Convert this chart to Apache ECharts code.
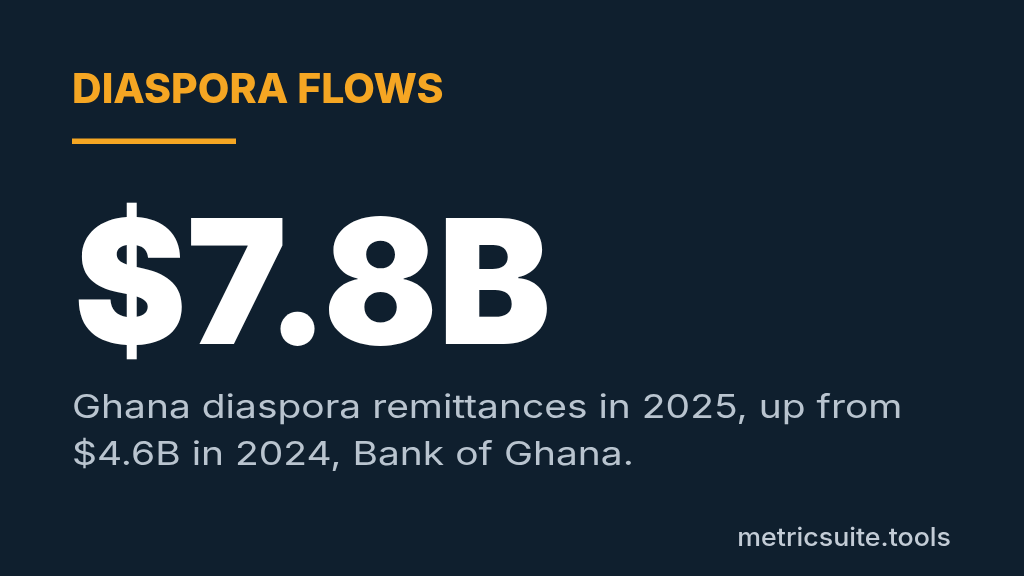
<!DOCTYPE html>
<html><head><meta charset="utf-8">
<script src="https://cdn.jsdelivr.net/npm/echarts@6/dist/echarts.min.js"></script>
<style>html,body{margin:0;padding:0;background:#0f1f2e;}#c{width:1024px;height:576px;}</style>
</head><body><div id="c"></div>
<script>
var kicker = 'DIASPORA FLOWS';
var currentValue = 7.8;
var previousValue = 4.6;
var currentYear = 2025;
var previousYear = 2024;
var country = 'Ghana';
var source = 'Bank of Ghana';
var footer = 'metricsuite.tools';

var FONT = 'Inter, "Noto Sans", sans-serif';
var chart = echarts.init(document.getElementById('c'));
chart.setOption({
  backgroundColor: '#0f1f2e',
  graphic: [
    {type:'text', x:72, y:70, scaleX:1.0, style:{x:0, y:0, verticalAlign:'top', text:kicker, fill:'#f5a623', font:'800 41px ' + FONT}},
    {type:'rect', shape:{x:72, y:138.5, width:164, height:5.5}, style:{fill:'#f5a623'}},
    {type:'text', x:74, y:205, scaleX:0.977, style:{x:0, y:0, verticalAlign:'top', text:'$' + currentValue.toFixed(1) + 'B', fill:'#ffffff', font:'900 173px ' + FONT}},
    {type:'text', x:72, y:384, scaleX:1.18, style:{x:0, y:0, verticalAlign:'top', text:country + ' diaspora remittances in ' + currentYear + ', up from\n$' + previousValue.toFixed(1) + 'B in ' + previousYear + ', ' + source + '.', fill:'#b9c4cf', font:'400 33px ' + FONT, lineHeight:47.5}},
    {type:'text', x:951, y:526, scaleX:1.07, style:{x:0, y:0, align:'right', verticalAlign:'top', text:footer, fill:'#c3ccd6', font:'500 25px ' + FONT}}
  ]
});
</script></body></html>
